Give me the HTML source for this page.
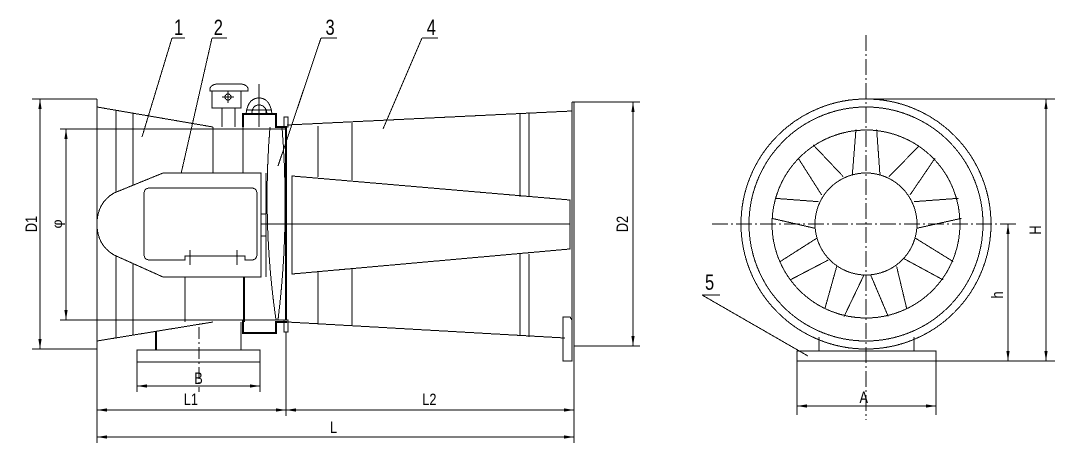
<!DOCTYPE html>
<html><head><meta charset="utf-8"><style>
html,body{margin:0;padding:0;background:#fff;}
svg{display:block;}
text{font-family:"Liberation Sans",sans-serif;fill:#000;}
</style></head><body>
<svg width="1069" height="450" viewBox="0 0 1069 450" xmlns="http://www.w3.org/2000/svg">
<defs>
<marker id="a" viewBox="0 0 10 4" refX="10" refY="2" markerWidth="10" markerHeight="4" markerUnits="userSpaceOnUse" orient="auto-start-reverse"><path d="M10,2 L0,0.4 L0,3.6 Z" fill="#000"/></marker>
</defs>
<g fill="none" stroke="#000" stroke-width="1" shape-rendering="crispEdges">
<!-- leaders -->
<path d="M172,38H185 M172,38L142,137"/>
<path d="M212,38H227 M212,38L181,174"/>
<path d="M321,38H337 M321,38L278,166"/>
<path d="M422,38H438 M422,38L383,129"/>
<!-- D1 -->
<path d="M32,99H97 M32,349H97"/>
<line x1="40" y1="99" x2="40" y2="349" marker-start="url(#a)" marker-end="url(#a)"/>
<path d="M60,129H287 M60,320H287"/>
<line x1="66" y1="129" x2="66" y2="320" marker-start="url(#a)" marker-end="url(#a)"/>
<!-- inlet -->
<path d="M97,99V349 M97,107L213,127 M97,341L213,322"/>
<path d="M116,110V338 M133,113V335"/>
<path d="M97,224H570"/>
<!-- motor -->
<path d="M163,173H261V277H163L114,255Q97,245 97,224Q97,203 114,193Z" fill="#fff"/>
<path d="M150,188H251Q257,188 257,194V254Q257,260 251,260H245V256H185V260H150Q144,260 144,254V194Q144,188 150,188Z"/>
<path d="M190,250V265 M237,250V265"/>
<path d="M213,127V173 M243,127V173 M185,277V322"/>
<path d="M244,277V322" stroke-width="2"/>
<path d="M261,214H266V236H261"/>
<!-- junction box -->
<path d="M210,91H248V88Q246,84 240,84H218Q212,84 210,88Z"/>
<rect x="212" y="91" width="29" height="17"/>
<path d="M222,108V127 M235,108V127"/>
<circle cx="228" cy="97" r="3"/>
<path d="M222,97H234 M228,91V103"/>
<!-- lifting eye -->
<path d="M243,127V114H276V127H287 M243,320V333H276V322H287" stroke-width="2"/>
<path d="M246,114Q248,98 259,98Q270,98 272,114 M252,114Q252,105 259,105Q266,105 267,114 M246,110H272 M259,84V127 M252,110V114 M266,110V114"/>
<!-- impeller lens -->
<path d="M266,173V277"/>
<path d="M270,127Q262,224 276,320 M282,127Q290,224 278,320"/>
<rect x="284" y="117" width="4" height="10"/>
<rect x="284" y="320" width="4" height="12"/>
<path d="M286,127V320" stroke-width="2"/>
<path d="M286,332V416"/>
<!-- outlet cone -->
<path d="M287,125L572,111 M287,322L565,338"/>
<path d="M318,126V177 M352,123V180 M318,271V324 M352,268V326"/>
<path d="M520,114V197 M529,113V196 M520,253V336 M529,254V337"/>
<path d="M292,176L570,200V249L292,274Z"/>
<path d="M572,102V346 M574,102V443 M572,102H640 M574,346H640"/>
<path d="M563,317H570L572,320V361H563Z"/>
<line x1="633" y1="102" x2="633" y2="346" marker-start="url(#a)" marker-end="url(#a)"/>
<!-- base -->
<rect x="137" y="350" width="123" height="12"/>
<path d="M156,331V350" stroke-width="2"/>
<path d="M241,322V350"/>
<path d="M199,327V392" stroke-dasharray="12,3,2,3"/>
<path d="M137,362V392 M260,362V392"/>
<line x1="137" y1="386" x2="260" y2="386" marker-start="url(#a)" marker-end="url(#a)"/>
<path d="M97,349V443"/>
<line x1="97" y1="410" x2="286" y2="410" marker-start="url(#a)" marker-end="url(#a)"/>
<line x1="286" y1="410" x2="574" y2="410" marker-start="url(#a)" marker-end="url(#a)"/>
<line x1="97" y1="437" x2="574" y2="437" marker-start="url(#a)" marker-end="url(#a)"/>
<!-- right view -->
<circle cx="866" cy="224" r="125"/>
<circle cx="866" cy="224" r="117"/>
<circle cx="866" cy="224" r="94"/>
<circle cx="866" cy="224" r="51" fill="#fff"/>
<g transform="translate(740,95) scale(0.3333)">
<path vector-effect="non-scaling-stroke" d="M337,240L348,103 M420,240L410,103 M447,245L537,153 M510,300L585,190 M522,320L655,310 M530,400L665,370 M527,430L640,500 M490,490L610,555 M470,515L500,640 M392,540L445,665 M372,540L312,665 M290,515L255,640 M265,495L150,555 M230,430L120,500 M225,400L95,370 M235,320L105,310 M245,300L175,190 M310,245L220,150"/>
</g>
<path d="M712,224H1018" stroke-dasharray="16,3,2,3"/>
<path d="M866,35V420" stroke-dasharray="16,3,2,3"/>
<path d="M819,337V351 M914,337V351"/>
<rect x="797" y="351" width="139" height="10"/>
<path d="M797,361V415 M936,361V415"/>
<line x1="797" y1="406" x2="936" y2="406" marker-start="url(#a)" marker-end="url(#a)"/>
<path d="M868,99H1055 M936,361H1055"/>
<line x1="1046" y1="99" x2="1046" y2="361" marker-start="url(#a)" marker-end="url(#a)"/>
<line x1="1008" y1="224" x2="1008" y2="361" marker-start="url(#a)" marker-end="url(#a)"/>
<path d="M702,295H720 M702,295L808,356"/>
</g>
<!-- labels -->
<g transform="scale(0.75,1)">
<text x="232" y="35" style="font-size:22px">1</text>
<text x="285" y="35" style="font-size:22px">2</text>
<text x="434" y="35" style="font-size:22px">3</text>
<text x="569" y="35" style="font-size:22px">4</text>
<text x="940" y="290" style="font-size:22px">5</text>
<text x="259" y="384" style="font-size:17px">B</text>
<text x="245" y="405" style="font-size:17px">L1</text>
<text x="563" y="405" style="font-size:17px">L2</text>
<text x="440" y="433" style="font-size:17px">L</text>
<text x="1146" y="403" style="font-size:17px">A</text>
</g>
<text transform="translate(37,224) rotate(-90) scale(0.75,1)" text-anchor="middle" style="font-size:17px">D1</text>
<text transform="translate(62,224) rotate(-90)" text-anchor="middle" style="font-size:14px">φ</text>
<text transform="translate(628,224) rotate(-90) scale(0.75,1)" text-anchor="middle" style="font-size:17px">D2</text>
<text transform="translate(1041,230) rotate(-90) scale(0.75,1)" text-anchor="middle" style="font-size:17px">H</text>
<text transform="translate(1003,295) rotate(-90) scale(0.75,1)" text-anchor="middle" style="font-size:17px">h</text>
</svg>
</body></html>
